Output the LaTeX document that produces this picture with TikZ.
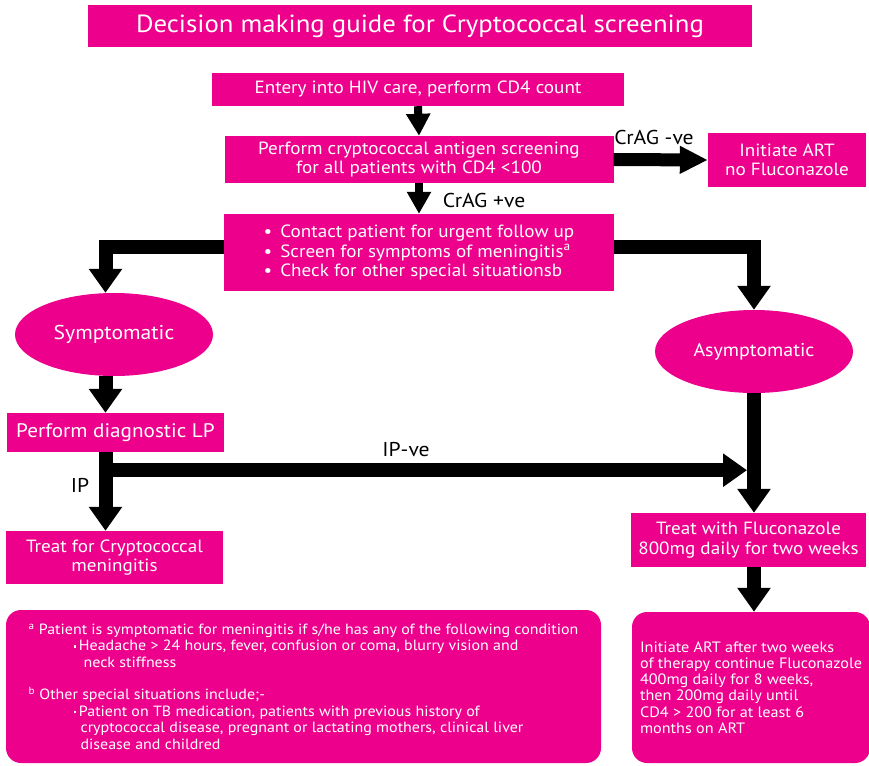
\documentclass[tikz,border=0pt]{standalone}
\usepackage{fontspec}
\setmainfont{PT Sans}[FakeStretch=1.08]
\usetikzlibrary{arrows.meta,shapes.geometric,calc}
\definecolor{flowpink}{HTML}{EC008C}
\newcommand\fnbul{\raisebox{2.8pt}{\rule{2.4pt}{2.4pt}}\hspace{3pt}}
\begin{document}
\begin{tikzpicture}[x=1pt,y=-1pt,
  box/.style={fill=flowpink,text=white,inner sep=0pt,align=center,
    font=\fontsize{17.7}{19.5}\selectfont},
  roundbox/.style={box,rounded corners=15pt,align=left,
    font=\fontsize{14.8}{16.4}\selectfont},
  oval/.style={ellipse,fill=flowpink,text=white,inner sep=0pt,
    minimum width=198,minimum height=83,font=\fontsize{18.5}{21}\selectfont},
  bigarrow/.style={line width=14pt,-{Triangle[width=32pt,length=24pt]}},
  midarrow/.style={line width=13pt,-{Triangle[width=26pt,length=28pt]}},
  thinarrow/.style={line width=8pt,-{Triangle[width=23pt,length=22pt]}},
  tag/.style={text=black,inner sep=0pt,font=\fontsize{20}{22}\selectfont}]
\useasboundingbox (0,0) rectangle (869,765);

% boxes
\node[box,minimum width=664,minimum height=42,font=\fontsize{24.8}{27}\selectfont]
  (title) at (420,26) {Decision making guide for Cryptococcal screening};
\node[box,minimum width=412,minimum height=33] (entry) at (418,89.5)
  {Entery into HIV care, perform CD4 count};
\node[box,minimum width=389,minimum height=47] (screen) at (419,159.5)
  {Perform cryptococcal antigen screening\\for all patients with CD4 <100};
\node[box,minimum width=158,minimum height=54] (noflu) at (787,160)
  {Initiate ART\\no Fluconazole};
\node[box,minimum width=390,minimum height=77,align=left] (contact) at (419,252.5)
  {•\hspace{8pt}Contact patient for urgent follow up\\
   •\hspace{8pt}Screen for symptoms of meningitis\textsuperscript{a}\\
   •\hspace{8pt}Check for other special situationsb};
\node[oval,font=\fontsize{20}{22}\selectfont] (sym) at (114,334.5) {Symptomatic};
\node[oval] (asy) at (754,351.5) {Asymptomatic};
\node[box,minimum width=217,minimum height=39,font=\fontsize{19.6}{21}\selectfont]
  (lp) at (115.5,432.5) {Perform diagnostic LP};
\node[box,minimum width=217,minimum height=53] (treatcm) at (114.5,557.5)
  {Treat for Cryptococcal\\meningitis};
\node[box,minimum width=235,minimum height=54] (flu) at (748.5,540)
  {Treat with Fluconazole\\800mg daily for two weeks};
\node[roundbox,minimum width=238,minimum height=151,
  font=\fontsize{15}{16.2}\selectfont] (art) at (751,687.5)
  {Initiate ART after two weeks\\
   of therapy continue Fluconazole\\
   400mg daily for 8 weeks,\\
   then 200mg daily until\\
   CD4 > 200 for at least 6\\
   months on ART};
\node[roundbox,minimum width=595,minimum height=153] (notes) at (303.5,686.5)
  {\textsuperscript{a} Patient is symptomatic for meningitis if s/he has any of the following condition\\
   \hspace*{45pt}\fnbul Headache > 24 hours, fever, confusion or coma, blurry vision and\\
   \hspace*{55pt}neck stiffness\\[16.4pt]
   \textsuperscript{b} Other special situations include;-\\
   \hspace*{45pt}\fnbul Patient on TB medication, patients with previous history of\\
   \hspace*{52pt}cryptococcal disease, pregnant or lactating mothers, clinical liver\\
   \hspace*{52pt}disease and childred};

% connectors
\coordinate (leftcol) at (105.5,0);
\draw[thinarrow] (entry.south) -- (screen.north);
\draw[midarrow] (screen.east) -- (noflu.west);
\draw[thinarrow] (screen.south) -- (contact.north);
\draw[bigarrow] ([yshift=5.5pt]contact.west) -| (leftcol |- sym.north);
\draw[bigarrow] ([yshift=5.5pt]contact.east) -| (asy.north);
\draw[bigarrow] (leftcol |- sym.south) -- (leftcol |- lp.north);
\coordinate (lpout) at (leftcol |- lp.south);
\coordinate (split) at ($(lpout)+(0,18)$);
\draw[bigarrow] (lpout) -- (lpout |- treatcm.north);
\draw[bigarrow,shorten >=7pt] (split) -- (split -| asy.south);
\draw[bigarrow] (asy.south) -- (asy.south |- flu.north);
\draw[bigarrow] (asy.south |- flu.south) -- (asy.south |- art.north);

% connector labels
\node[tag] (neg) at (654,137) {CrAG -ve};
\node[tag] (pos) at (484,200) {CrAG +ve};
\node[tag] (ipneg) at (406,450) {IP-ve};
\node[tag] (ip) at (80,485) {IP};
\end{tikzpicture}
\end{document}
